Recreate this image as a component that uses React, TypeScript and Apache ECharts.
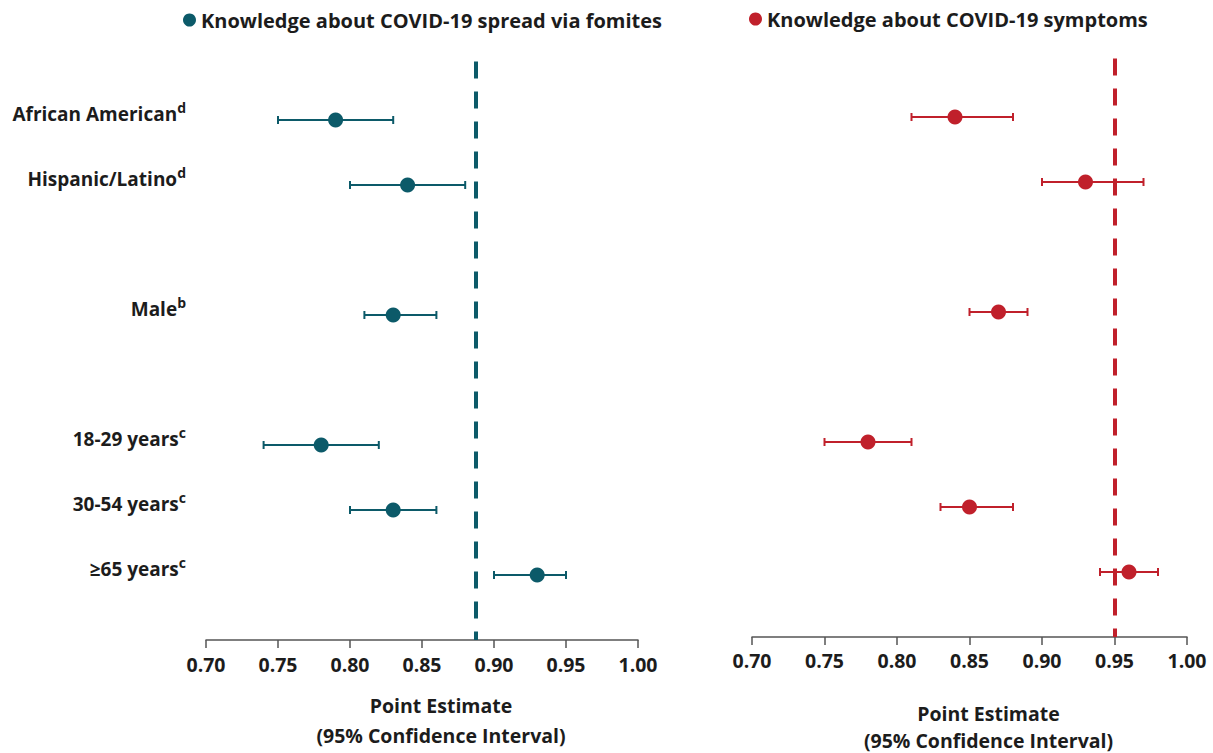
import React, { useEffect, useRef } from "react";
import * as echarts from "echarts";

const categories = ["African American", "Hispanic/Latino", "Male", "18-29 years", "30-54 years", "≥65 years"];
const superscripts = ["d", "d", "b", "c", "c", "c"];
const rowPositions = [8, 7, 5, 3, 2, 1];

const fomitesName = "Knowledge about COVID-19 spread via fomites";
const fomitesPoint = [0.79, 0.84, 0.83, 0.78, 0.83, 0.93];
const fomitesLower = [0.75, 0.80, 0.81, 0.74, 0.80, 0.90];
const fomitesUpper = [0.83, 0.88, 0.86, 0.82, 0.86, 0.95];
const fomitesReference = 0.887;

const symptomsName = "Knowledge about COVID-19 symptoms";
const symptomsPoint = [0.84, 0.93, 0.87, 0.78, 0.85, 0.96];
const symptomsLower = [0.81, 0.90, 0.85, 0.75, 0.83, 0.94];
const symptomsUpper = [0.88, 0.97, 0.89, 0.81, 0.88, 0.98];
const symptomsReference = 0.95;

const xTicks = [0.7, 0.75, 0.8, 0.85, 0.9, 0.95, 1.0];
const axisTitle = "Point Estimate\n(95% Confidence Interval)";

const TEAL = "#0C5A69";
const RED = "#C0202B";
const INK = "#1c1c1c";
const FONT = "'Open Sans', Lato, sans-serif";

function errorBarRender(color: string) {
  return (params: any, api: any) => {
    const lo = api.coord([api.value(0), api.value(2)]);
    const hi = api.coord([api.value(1), api.value(2)]);
    const cap = 4;
    const style = { stroke: color, lineWidth: 2 };
    return {
      type: "group",
      children: [
        { type: "line", shape: { x1: lo[0], y1: lo[1], x2: hi[0], y2: hi[1] }, style },
        { type: "line", shape: { x1: lo[0], y1: lo[1] - cap, x2: lo[0], y2: lo[1] + cap }, style },
        { type: "line", shape: { x1: hi[0], y1: hi[1] - cap, x2: hi[0], y2: hi[1] + cap }, style },
      ],
    };
  };
}

function xAxisFor(gridIndex: number, nameGap: number, lineHeight: number, labelMargin: number) {
  return {
    type: "value",
    gridIndex,
    min: 0.7,
    max: 1.0,
    interval: 0.05,
    name: axisTitle,
    nameLocation: "middle",
    nameGap,
    nameTextStyle: {
      fontFamily: FONT,
      fontWeight: "bold",
      fontSize: 19.5,
      lineHeight,
      color: INK,
      padding: [0, 0, 0, 38],
    },
    axisLine: { show: true, lineStyle: { color: "#555", width: 1.5 } },
    axisTick: { show: true, length: 8, lineStyle: { color: "#555", width: 1.5 } },
    splitLine: { show: false },
    axisLabel: {
      margin: labelMargin,
      fontFamily: FONT,
      fontWeight: "bold",
      fontSize: 19.5,
      color: INK,
      formatter: (v: number) => {
        const t = xTicks.find((x) => Math.abs(x - v) < 1e-6);
        return (t ?? v).toFixed(2);
      },
    },
  };
}

function yAxisFor(gridIndex: number, showLabels: boolean) {
  return {
    type: "value",
    gridIndex,
    min: 0,
    max: 9,
    interval: 1,
    axisLine: { show: false },
    axisTick: { show: false },
    splitLine: { show: false },
    axisLabel: {
      show: showLabels,
      margin: 20,
      padding: [0, 0, 12, 0],
      formatter: (v: number) => {
        const i = rowPositions.indexOf(Math.round(v));
        if (i < 0) return "";
        return `{m|${categories[i]}}{s|${superscripts[i]}}`;
      },
      rich: {
        m: { fontFamily: FONT, fontWeight: "bold", fontSize: 19, color: INK, lineHeight: 27, verticalAlign: "middle" },
        s: { fontFamily: FONT, fontWeight: "bold", fontSize: 14, color: INK, lineHeight: 10, verticalAlign: "top" },
      },
    },
  };
}

function refLine(value: number, color: string) {
  return {
    silent: true,
    symbol: "none",
    precision: 4,
    label: { show: false },
    lineStyle: { color, width: 4, type: [17, 13] },
    data: [[{ coord: [value, 8.9] }, { coord: [value, 0] }]],
  };
}

export default function App() {
  const ref = useRef<HTMLDivElement>(null);
  useEffect(() => {
    if (!ref.current) return;
    const chart = echarts.init(ref.current, null, { renderer: "svg" });
    const fomitesPts = fomitesPoint.map((v, i) => [v, rowPositions[i]]);
    const fomitesErr = fomitesPoint.map((_, i) => [fomitesLower[i], fomitesUpper[i], rowPositions[i]]);
    const symptomsPts = symptomsPoint.map((v, i) => [v, rowPositions[i]]);
    const symptomsErr = symptomsPoint.map((_, i) => [symptomsLower[i], symptomsUpper[i], rowPositions[i]]);
    const legendText = { fontFamily: FONT, fontWeight: "bold", fontSize: 20, color: INK };
    chart.setOption({
      animation: false,
      backgroundColor: "#ffffff",
      legend: [
        {
          data: [fomitesName],
          left: 178,
          top: 5,
          icon: "circle",
          itemWidth: 13,
          itemHeight: 13,
          itemGap: 6,
          textStyle: legendText,
        },
        {
          data: [symptomsName],
          left: 744,
          top: 4,
          icon: "circle",
          itemWidth: 13,
          itemHeight: 13,
          textStyle: legendText,
        },
      ],
      grid: [
        { left: 206, right: 575, top: 55, bottom: 113, outerBoundsMode: "none", containLabel: false },
        { left: 752, right: 26, top: 52, bottom: 116, outerBoundsMode: "none", containLabel: false },
      ],
      xAxis: [xAxisFor(0, 50, 30, 14), xAxisFor(1, 63, 27, 13)],
      yAxis: [yAxisFor(0, true), yAxisFor(1, false)],
      series: [
        {
          type: "custom",
          name: fomitesName + " CI",
          xAxisIndex: 0,
          yAxisIndex: 0,
          renderItem: errorBarRender(TEAL),
          data: fomitesErr,
          silent: true,
          z: 2,
        },
        {
          type: "scatter",
          name: fomitesName,
          xAxisIndex: 0,
          yAxisIndex: 0,
          symbol: "circle",
          symbolSize: 15,
          itemStyle: { color: TEAL, opacity: 1 },
          data: fomitesPts,
          z: 3,
          markLine: refLine(fomitesReference, TEAL),
        },
        {
          type: "custom",
          name: symptomsName + " CI",
          xAxisIndex: 1,
          yAxisIndex: 1,
          renderItem: errorBarRender(RED),
          data: symptomsErr,
          silent: true,
          z: 2,
        },
        {
          type: "scatter",
          name: symptomsName,
          xAxisIndex: 1,
          yAxisIndex: 1,
          symbol: "circle",
          symbolSize: 15,
          itemStyle: { color: RED, opacity: 1 },
          data: symptomsPts,
          z: 3,
          markLine: refLine(symptomsReference, RED),
        },
      ],
    });
    return () => chart.dispose();
  }, []);
  return (
    <div
      ref={ref}
      style={{ position: "fixed", left: 0, top: 0, width: 1213, height: 753, background: "#fff" }}
    />
  );
}
